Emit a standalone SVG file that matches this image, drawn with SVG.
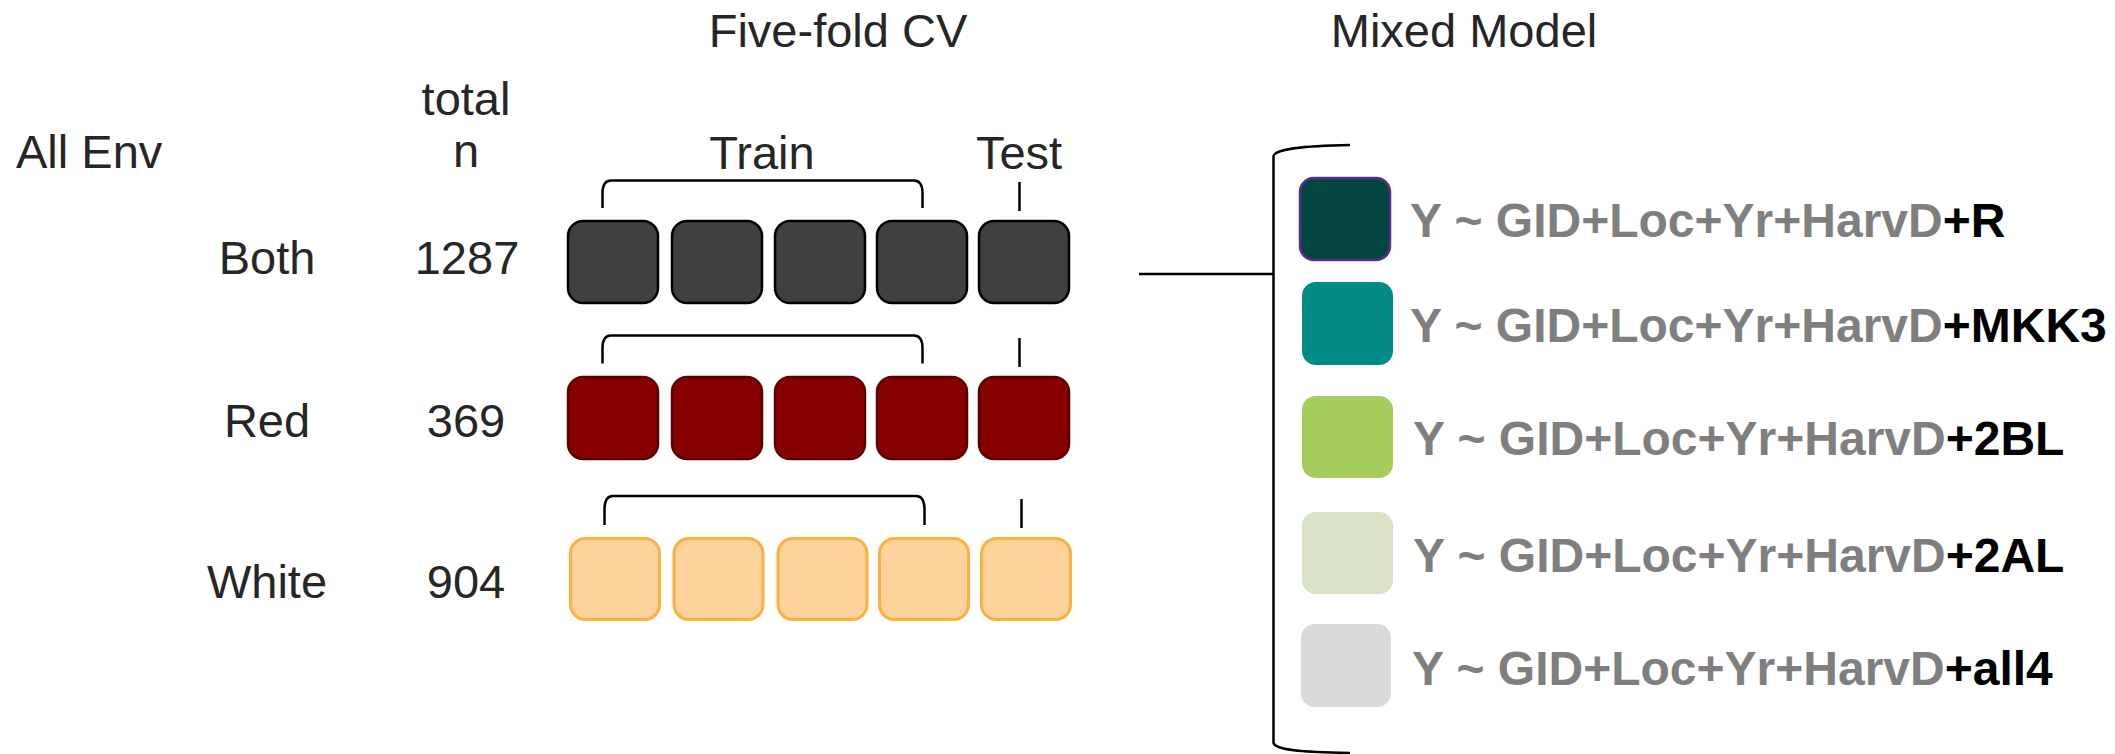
<svg xmlns="http://www.w3.org/2000/svg" width="2115" height="754" viewBox="0 0 2115 754">
<style>
.lbl{font-family:"Liberation Sans",Arial,sans-serif;font-size:47px;fill:#262626;text-anchor:middle}
.lbl-l{font-family:"Liberation Sans",Arial,sans-serif;font-size:47px;fill:#262626}
.f{font-family:"Liberation Sans",Arial,sans-serif;font-size:48px;font-weight:bold;fill:#7f7f7f}
.f tspan.s{fill:#000}
.both{fill:#404040;stroke:#000;stroke-width:2.5}
.red{fill:#870000;stroke:#5a0000;stroke-width:2.5}
.white{fill:#fed39b;stroke:#fbb040;stroke-width:3}
.ln{fill:none;stroke:#000;stroke-width:2.5}
</style>
<rect width="2115" height="754" fill="#fff"/>
<g id="headers">
<text class="lbl" x="838" y="47">Five-fold CV</text>
<text class="lbl" x="1464" y="47">Mixed Model</text>
<text class="lbl-l" x="16" y="168">All Env</text>
<text class="lbl" x="466" y="115">total</text>
<text class="lbl" x="466" y="167">n</text>
<text class="lbl" x="762" y="169">Train</text>
<text class="lbl" x="1019" y="169">Test</text>
</g>
<g id="row-both">
<text class="lbl" x="267" y="274">Both</text>
<text class="lbl" x="467" y="274">1287</text>
<rect class="both" x="568" y="221" width="90" height="82" rx="15"/>
<rect class="both" x="672" y="221" width="90" height="82" rx="15"/>
<rect class="both" x="775" y="221" width="90" height="82" rx="15"/>
<rect class="both" x="877" y="221" width="90" height="82" rx="15"/>
<rect class="both" x="979" y="221" width="90" height="82" rx="15"/>
</g>
<g id="row-red">
<text class="lbl" x="267" y="437">Red</text>
<text class="lbl" x="466" y="437">369</text>
<rect class="red" x="568" y="377" width="90" height="82" rx="15"/>
<rect class="red" x="672" y="377" width="90" height="82" rx="15"/>
<rect class="red" x="775" y="377" width="90" height="82" rx="15"/>
<rect class="red" x="877" y="377" width="90" height="82" rx="15"/>
<rect class="red" x="979" y="377" width="90" height="82" rx="15"/>
</g>
<g id="row-white">
<text class="lbl" x="267" y="598">White</text>
<text class="lbl" x="466" y="598">904</text>
<rect class="white" x="570.5" y="538.5" width="89" height="81" rx="15"/>
<rect class="white" x="674" y="538.5" width="89" height="81" rx="15"/>
<rect class="white" x="778" y="538.5" width="89" height="81" rx="15"/>
<rect class="white" x="879.5" y="538.5" width="89" height="81" rx="15"/>
<rect class="white" x="981.5" y="538.5" width="89" height="81" rx="15"/>
</g>
<g id="model-R">
<rect x="1300" y="178" width="90" height="82" rx="14" fill="#02463f" stroke="#5b2c8f" stroke-width="2.5"/>
<text class="f" x="1410" y="237">Y ~ GID+Loc+Yr+HarvD<tspan class="s">+R</tspan></text>
</g>
<g id="model-MKK3">
<rect x="1302" y="282" width="91" height="83" rx="14" fill="#028a86"/>
<text class="f" x="1410" y="342">Y ~ GID+Loc+Yr+HarvD<tspan class="s">+MKK3</tspan></text>
</g>
<g id="model-2BL">
<rect x="1302" y="396" width="91" height="82" rx="14" fill="#a4cd5c"/>
<text class="f" x="1413" y="455">Y ~ GID+Loc+Yr+HarvD<tspan class="s">+2BL</tspan></text>
</g>
<g id="model-2AL">
<rect x="1302" y="512" width="91" height="82" rx="14" fill="#d7e3c4"/>
<text class="f" x="1413" y="572">Y ~ GID+Loc+Yr+HarvD<tspan class="s">+2AL</tspan></text>
</g>
<g id="model-all4">
<rect x="1301" y="624" width="90" height="83" rx="14" fill="#d9d9d9"/>
<text class="f" x="1412" y="685">Y ~ GID+Loc+Yr+HarvD<tspan class="s">+all4</tspan></text>
</g>
<g id="connectors">
<path class="ln" d="M602.5 208 L602.5 192 Q603 180.5 611 180.5 L914 180.5 Q922 180.5 922.5 192 L922.5 208"/>
<path class="ln" d="M1019.5 182 L1019.5 211"/>
<path class="ln" d="M602.5 363.5 L602.5 347 Q603 335.5 611 335.5 L914 335.5 Q922 335.5 922.5 347 L922.5 363.5"/>
<path class="ln" d="M1019.5 338 L1019.5 367"/>
<path class="ln" d="M604.5 525 L604.5 508 Q605 496 613 496 L916 496 Q924 496 924.5 508 L924.5 525"/>
<path class="ln" d="M1021.5 499 L1021.5 528"/>
<path class="ln" d="M1350 145 C1300 146 1276 149 1273.5 156 L1273.5 743 C1276 750 1300 752 1350 753"/>
<path class="ln" d="M1139 274 L1273.5 274"/>
</g>
</svg>
